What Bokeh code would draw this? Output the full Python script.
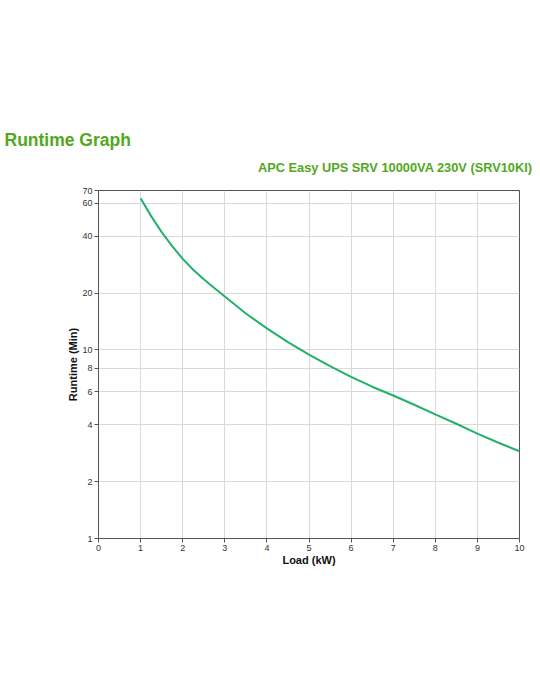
from bokeh.plotting import figure
from bokeh.models import Title, FixedTicker, Range1d
from bokeh.embed import file_html
from bokeh.resources import INLINE

load_kw = [1.0, 1.25, 1.5, 1.75, 2.0, 2.25, 2.5, 2.75, 3.0, 3.5, 4.0, 4.5, 5.0, 5.5, 6.0, 6.5, 7.0, 7.5, 8.0, 8.5, 9.0, 9.5, 10.0]
runtime_min = [63.7, 51.2, 42.1, 35.5, 30.4, 26.6, 23.7, 21.3, 19.2, 15.6, 13.0, 11.0, 9.45, 8.2, 7.2, 6.38, 5.73, 5.12, 4.55, 4.06, 3.60, 3.22, 2.90]

x_ticks = [0, 1, 2, 3, 4, 5, 6, 7, 8, 9, 10]
y_ticks = [1, 2, 4, 6, 8, 10, 20, 40, 60, 70]

GREEN_T = "#52a81c"
LINE_C = "#22b169"
FONT = "Liberation Sans"

p = figure(width=540, height=588, output_backend="svg", toolbar_location=None,
           y_axis_type="log", x_range=Range1d(0, 10), y_range=Range1d(1, 70),
           min_border_left=98, min_border_right=21, min_border_top=190, min_border_bottom=50)
p.title.visible = False

sub = Title(text="APC Easy UPS SRV 10000VA 230V (SRV10KI)", align="right", offset=-13,
            text_font=FONT, text_font_size="12.8px", text_font_style="bold",
            text_color=GREEN_T, standoff=31)
p.add_layout(sub, "above")
main = Title(text="Runtime Graph", align="left", offset=-94,
             text_font=FONT, text_font_size="17.5px", text_font_style="bold",
             text_color=GREEN_T, standoff=-14)
p.add_layout(main, "above")

p.line(load_kw, runtime_min, line_color=LINE_C, line_width=2)

p.outline_line_color = "#555555"
p.outline_line_width = 1
p.background_fill_color = "white"
p.border_fill_color = "white"

for ax in (p.xaxis, p.yaxis):
    ax.axis_line_color = "#555555"
    ax.major_tick_line_color = "#555555"
    ax.major_tick_out = 4
    ax.major_tick_in = 0
    ax.minor_tick_line_color = None
    ax.major_label_text_font = FONT
    ax.major_label_text_font_size = "9px"
    ax.major_label_text_color = "#333333"
    ax.axis_label_text_font = FONT
    ax.axis_label_text_font_size = "11px"
    ax.axis_label_text_font_style = "bold"
    ax.axis_label_text_color = "#111111"

p.xaxis.ticker = FixedTicker(ticks=x_ticks)
p.yaxis.ticker = FixedTicker(ticks=y_ticks)
p.yaxis.major_label_overrides = {t: str(t) for t in y_ticks}
p.xaxis.axis_label = "Load (kW)"
p.yaxis.axis_label = "Runtime (Min)"
p.xaxis.axis_label_standoff = 0
p.yaxis.axis_label_standoff = 0
p.xaxis.major_label_standoff = 2
p.yaxis.major_label_standoff = 2

p.grid.grid_line_color = "#d9d9d9"
p.grid.grid_line_width = 1
p.ygrid.ticker = FixedTicker(ticks=y_ticks)
p.xgrid.ticker = FixedTicker(ticks=x_ticks)

open("out.html", "w").write(file_html(p, INLINE))
